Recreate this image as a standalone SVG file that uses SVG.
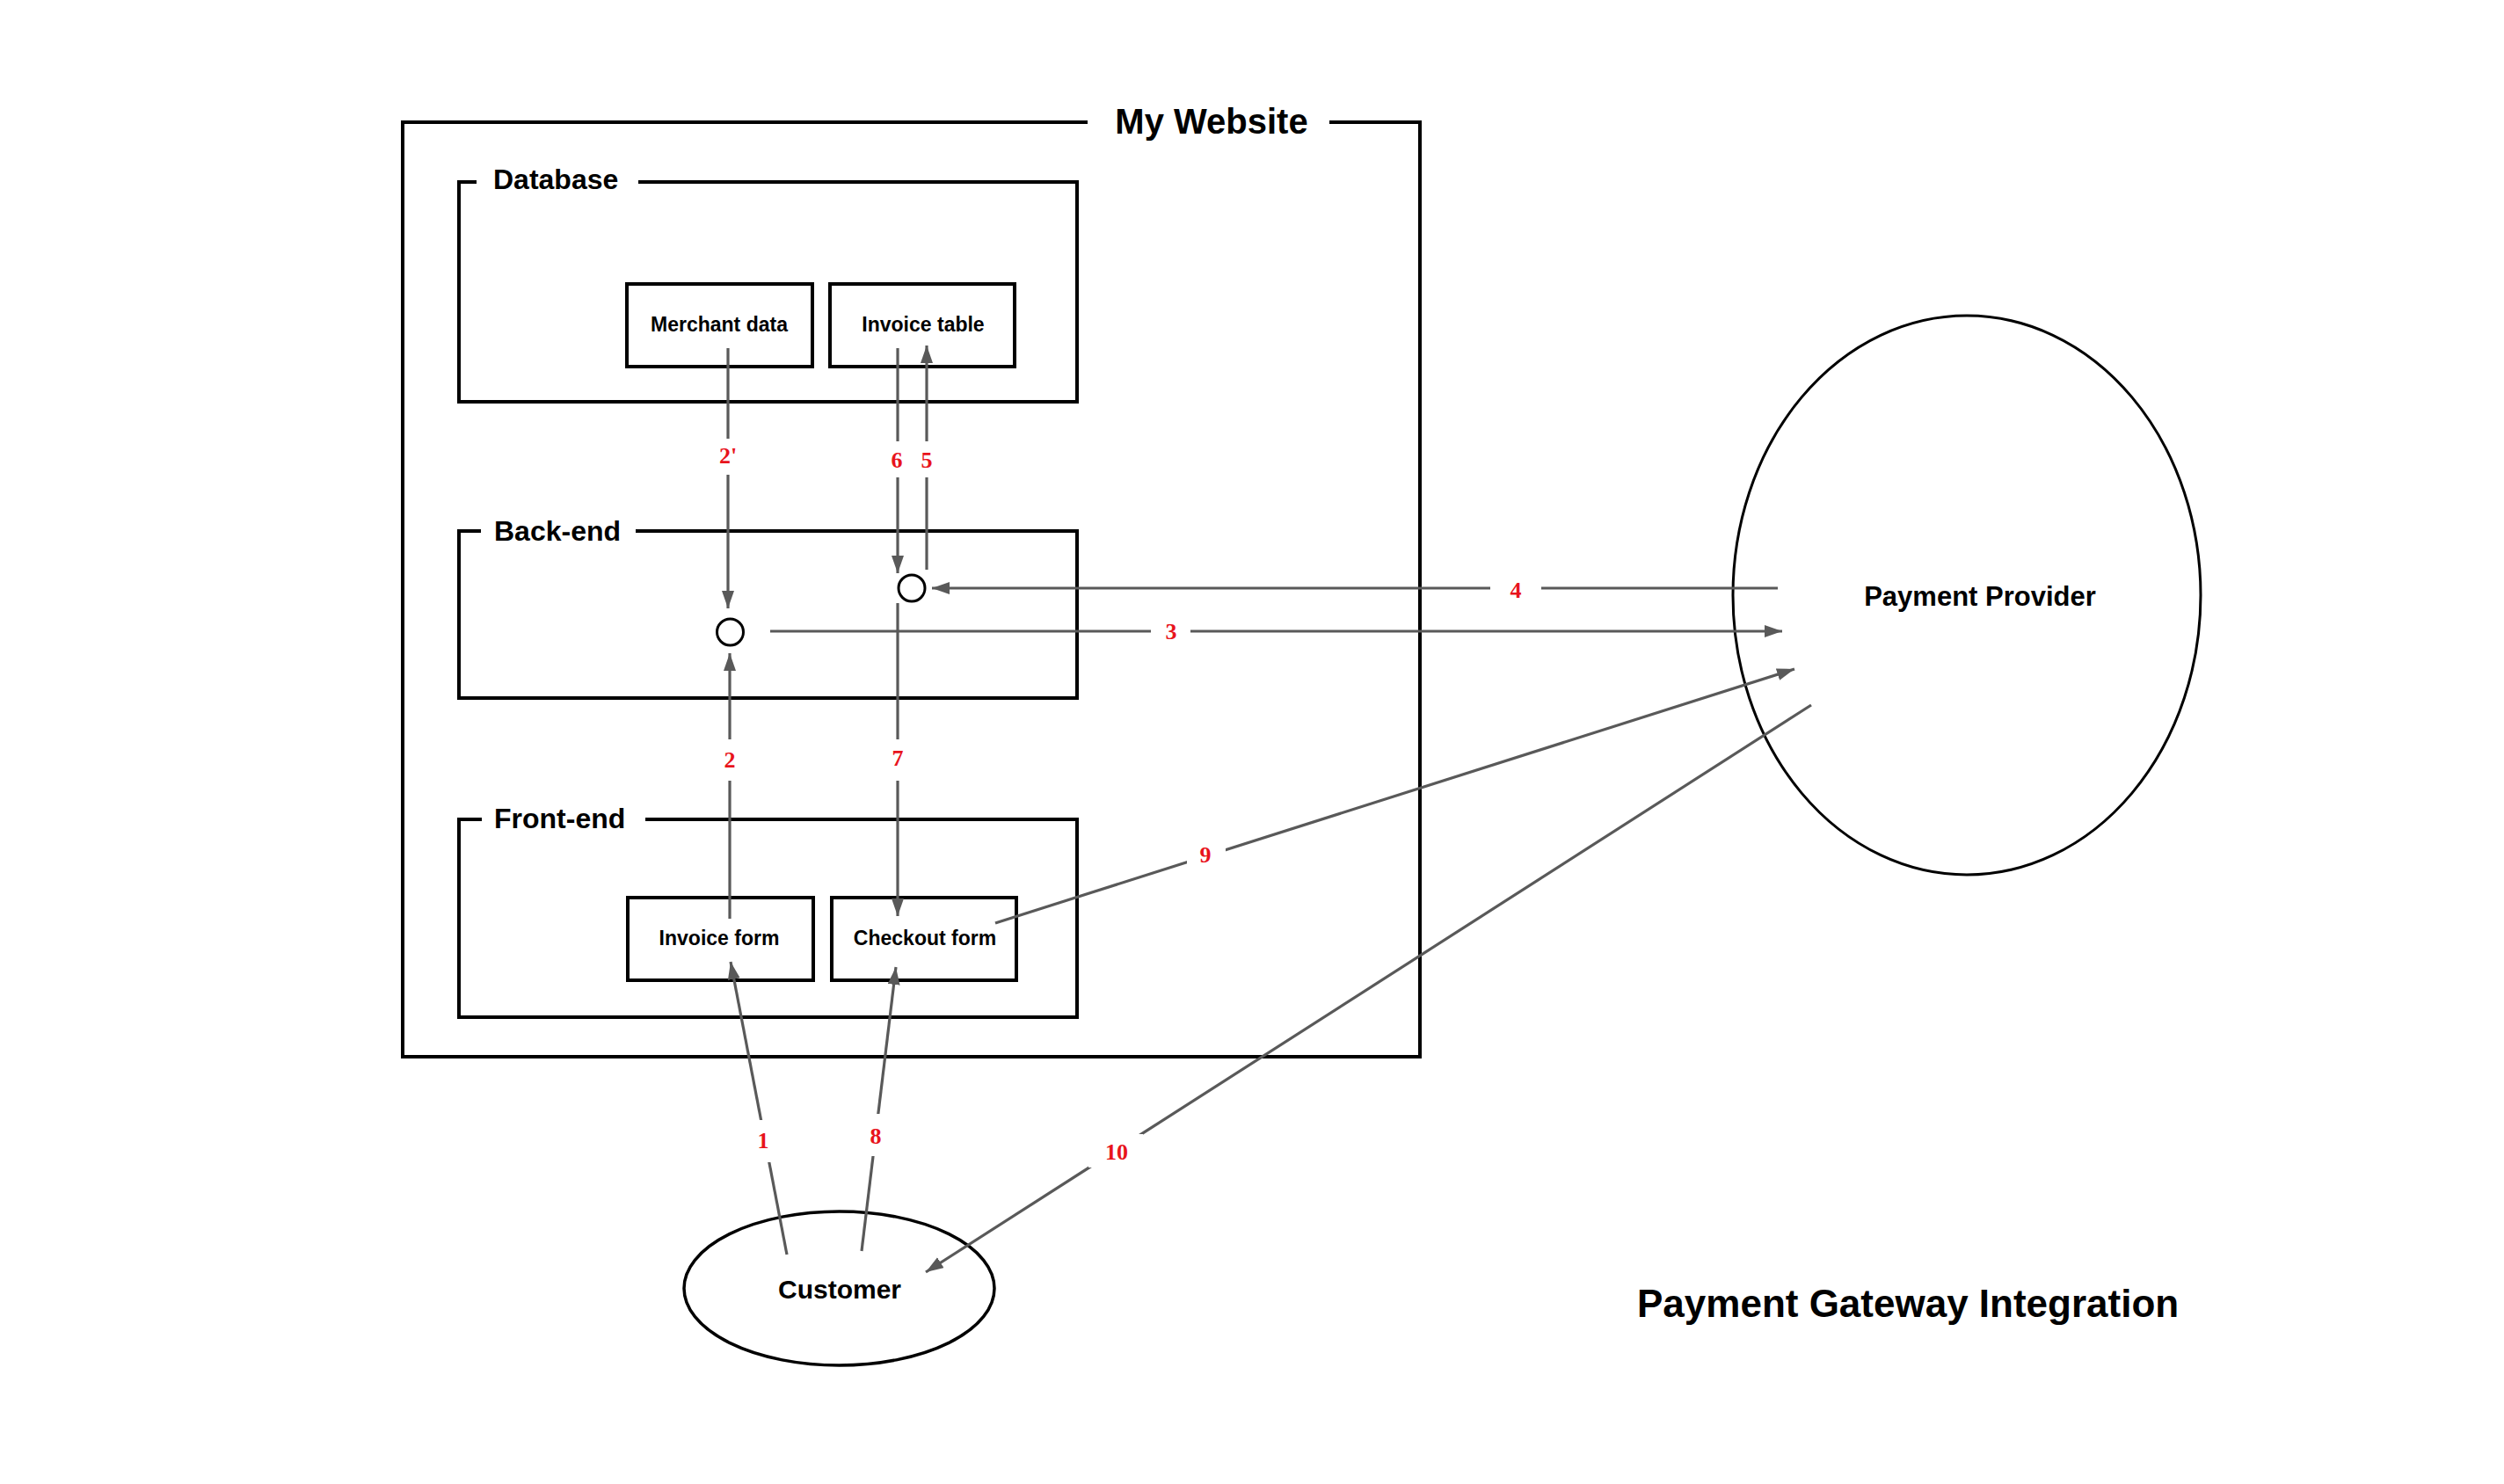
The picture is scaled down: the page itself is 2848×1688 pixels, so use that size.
<svg xmlns="http://www.w3.org/2000/svg" width="2848" height="1688" viewBox="0 0 2848 1688">
<style>
.box{fill:none;stroke:#000;stroke-width:4}
.sbox{fill:#fff;stroke:#000;stroke-width:4}
.gap{fill:#fff;stroke:none}
.ttl{font-family:"Liberation Sans",Arial,sans-serif;font-weight:bold;fill:#000}
.conn{fill:none;stroke:#595959;stroke-width:3.2;marker-end:url(#arr)}
.lbl{font-family:"Liberation Serif","Times New Roman",serif;font-weight:bold;font-size:26px;fill:#e8141c;text-anchor:middle}
.lbg{fill:#fff}
</style>
<defs>
<marker id="arr" markerWidth="22" markerHeight="16" refX="20" refY="7" orient="auto" markerUnits="userSpaceOnUse">
<path d="M0,0 L20,7 L0,14 Z" fill="#595959"/>
</marker>
</defs>
<rect width="2848" height="1688" fill="#fff"/>

<g id="my-website">
<rect class="box" x="458" y="139" width="1157" height="1063"/>
<rect class="gap" x="1237" y="120" width="275" height="36"/>
<text class="ttl" x="1378" y="152" font-size="40" text-anchor="middle">My Website</text>
</g>

<g id="database">
<rect class="box" x="522" y="207" width="703" height="250"/>
<rect class="gap" x="542" y="190" width="184" height="30"/>
<text class="ttl" x="561" y="215" font-size="32">Database</text>
</g>

<g id="backend">
<rect class="box" x="522" y="604" width="703" height="190"/>
<rect class="gap" x="547" y="587" width="176" height="30"/>
<text class="ttl" x="562" y="615" font-size="32">Back-end</text>
</g>

<g id="frontend">
<rect class="box" x="522" y="932" width="703" height="225"/>
<rect class="gap" x="548" y="915" width="186" height="30"/>
<text class="ttl" x="562" y="942" font-size="32">Front-end</text>
</g>

<g id="merchant-data">
<rect class="sbox" x="713" y="323" width="211" height="94"/>
<text class="ttl" x="818" y="377" font-size="23" text-anchor="middle">Merchant data</text>
</g>
<g id="invoice-table">
<rect class="sbox" x="944" y="323" width="210" height="94"/>
<text class="ttl" x="1050" y="377" font-size="23" text-anchor="middle">Invoice table</text>
</g>
<g id="invoice-form">
<rect class="sbox" x="714" y="1021" width="211" height="94"/>
<text class="ttl" x="818" y="1075" font-size="23" text-anchor="middle">Invoice form</text>
</g>
<g id="checkout-form">
<rect class="sbox" x="946" y="1021" width="210" height="94"/>
<text class="ttl" x="1052" y="1075" font-size="23" text-anchor="middle">Checkout form</text>
</g>

<g id="backend-node-a">
<circle cx="830.5" cy="719" r="15" fill="#fff" stroke="#000" stroke-width="3"/>
</g>
<g id="backend-node-b">
<circle cx="1037" cy="669" r="15" fill="#fff" stroke="#000" stroke-width="3"/>
</g>

<g id="payment-provider">
<ellipse cx="2237" cy="677" rx="266" ry="318" fill="none" stroke="#000" stroke-width="3"/>
<text class="ttl" x="2252" y="689" font-size="31" text-anchor="middle">Payment Provider</text>
</g>

<g id="customer">
<ellipse cx="954.5" cy="1465.5" rx="176.5" ry="87.5" fill="none" stroke="#000" stroke-width="3.5"/>
<text class="ttl" x="955" y="1477" font-size="30" text-anchor="middle">Customer</text>
</g>

<g id="connectors">
<path class="conn" d="M828,396 V692"/>
<path class="conn" d="M1021,396 V652"/>
<path class="conn" d="M1054,648 V393"/>
<path class="conn" d="M2022,669 H1060"/>
<path class="conn" d="M876,718 H2027"/>
<path class="conn" d="M830,1045 V743"/>
<path class="conn" d="M1021,686 V1042"/>
<path class="conn" d="M1132,1050 L2041,761"/>
<path class="conn" d="M2060,802 L1053,1447"/>
<path class="conn" d="M895,1427 L831,1094"/>
<path class="conn" d="M980,1423 L1019,1100"/>

<rect class="lbg" x="814" y="499" width="28" height="41"/>
<text class="lbl" x="828" y="527">2'</text>
<rect class="lbg" x="1010" y="502" width="22" height="41"/>
<text class="lbl" x="1020" y="532">6</text>
<rect class="lbg" x="1043" y="502" width="22" height="41"/>
<text class="lbl" x="1054" y="532">5</text>
<rect class="lbg" x="1695" y="655" width="58" height="30"/>
<text class="lbl" x="1724" y="680">4</text>
<rect class="lbg" x="1309" y="703" width="45" height="30"/>
<text class="lbl" x="1332" y="727">3</text>
<rect class="lbg" x="818" y="841" width="24" height="47"/>
<text class="lbl" x="830" y="873">2</text>
<rect class="lbg" x="1009" y="841" width="24" height="47"/>
<text class="lbl" x="1021" y="871">7</text>
<rect class="lbg" x="1350" y="955" width="44" height="34"/>
<text class="lbl" x="1371" y="981">9</text>
<rect class="lbg" x="1238" y="1290" width="62" height="38"/>
<text class="lbl" x="1270" y="1319">10</text>
<rect class="lbg" x="855" y="1274" width="26" height="48"/>
<text class="lbl" x="868" y="1306">1</text>
<rect class="lbg" x="983" y="1267" width="26" height="48"/>
<text class="lbl" x="996" y="1301">8</text>
</g>

<text id="title" class="ttl" x="1862" y="1498" font-size="44">Payment Gateway Integration</text>
</svg>
